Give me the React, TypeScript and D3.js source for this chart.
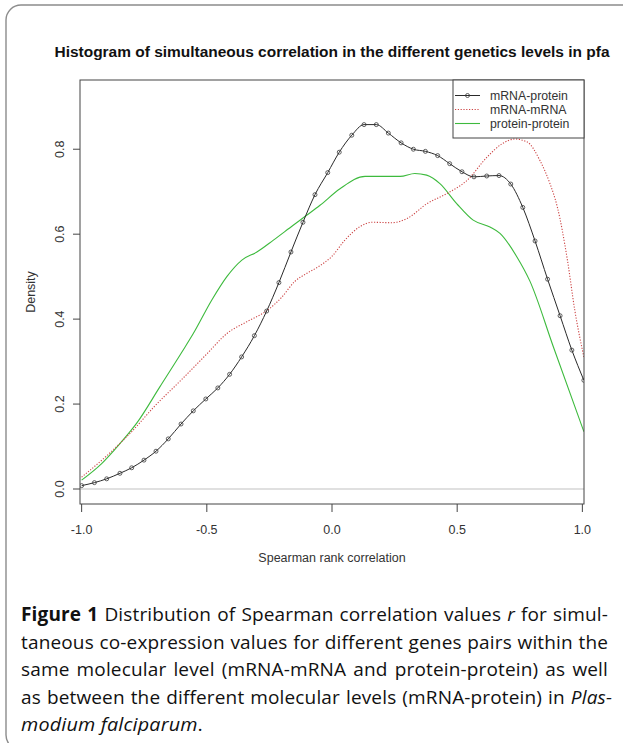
import React, { useRef, useLayoutEffect } from "react";
import * as d3 from "d3";

// values
const mrnaProteinX = [
  -1.0, -0.949, -0.9, -0.847, -0.8, -0.751, -0.703, -0.654, -0.603, -0.554, -0.504,
  -0.456, -0.409, -0.361, -0.31, -0.261, -0.212, -0.164, -0.116, -0.068, -0.017,
  0.029, 0.079, 0.128, 0.177, 0.225, 0.276, 0.325, 0.373, 0.422, 0.47, 0.519,
  0.567, 0.618, 0.667, 0.714, 0.762, 0.811, 0.861, 0.911, 0.958, 1.006,
];
const mrnaProteinY = [
  0.008, 0.015, 0.024, 0.037, 0.05, 0.068, 0.089, 0.118, 0.153, 0.184, 0.212,
  0.238, 0.27, 0.311, 0.361, 0.419, 0.486, 0.558, 0.628, 0.693, 0.745,
  0.793, 0.833, 0.858, 0.858, 0.838, 0.815, 0.8, 0.795, 0.785, 0.766, 0.747,
  0.735, 0.737, 0.738, 0.718, 0.663, 0.584, 0.494, 0.408, 0.327, 0.256,
];

const mrnaMrnaX = [
  -1.0, -0.9, -0.8, -0.71, -0.6, -0.5, -0.42, -0.34, -0.26, -0.2, -0.15, -0.1,
  -0.05, 0.0, 0.05, 0.11, 0.16, 0.24, 0.3, 0.38, 0.46, 0.54, 0.62, 0.68, 0.73,
  0.78, 0.83, 0.87, 0.9, 0.94, 0.97, 1.006,
];
const mrnaMrnaY = [
  0.028, 0.078, 0.135, 0.194, 0.258, 0.318, 0.366, 0.394, 0.42, 0.452, 0.488, 0.508,
  0.525, 0.548, 0.585, 0.617, 0.628, 0.627, 0.637, 0.672, 0.696, 0.727, 0.782, 0.813, 0.824,
  0.817, 0.774, 0.72, 0.664, 0.54, 0.42, 0.311,
];

const proteinX = [
  -1.0, -0.92, -0.847, -0.78, -0.687, -0.6, -0.554, -0.48, -0.42, -0.36, -0.3,
  -0.234, -0.155, -0.1, -0.048, 0.032, 0.132, 0.272, 0.331, 0.378, 0.431, 0.498,
  0.564, 0.631, 0.671, 0.738, 0.79, 0.884, 1.006,
];
const proteinY = [
  0.021, 0.06, 0.107, 0.155, 0.241, 0.322, 0.366, 0.445, 0.5, 0.539, 0.558,
  0.586, 0.621, 0.645, 0.668, 0.707, 0.736, 0.736, 0.743, 0.739, 0.719, 0.672,
  0.633, 0.617, 0.602, 0.547, 0.49, 0.335, 0.135,
];

const xTicks = [-1, -0.5, 0, 0.5, 1];
const yTicks = [0, 0.2, 0.4, 0.6, 0.8];
const seriesNames = ["mRNA-protein", "mRNA-mRNA", "protein-protein"];

const W = 623;
const H = 743;
const left = 80, right = 584, top = 80, bottom = 504;

const zip = (xs: number[], ys: number[]) => xs.map((x, i) => [x, ys[i]] as [number, number]);

export default function App() {
  const capRef = useRef<SVGGElement>(null);

  // justify caption lines by stretching the word gaps, like the typeset original
  useLayoutEffect(() => {
    const g = capRef.current;
    if (!g) return;
    g.querySelectorAll<SVGTextElement>("text[data-w]").forEach((t) => {
      t.setAttribute("word-spacing", "0");
      const target = +(t.getAttribute("data-w") || 0);
      const natural = t.getComputedTextLength();
      const spaces = (t.textContent || "").split(" ").length - 1;
      if (spaces > 0) t.setAttribute("word-spacing", String(Math.max(0, (target - natural) / spaces)));
    });
  }, []);

  const x = d3.scaleLinear().domain([-1.0065, 1.0065]).range([left, right]);
  const y = d3.scaleLinear().domain([-0.0353, 0.963]).range([bottom, top]);

  const line = d3
    .line<[number, number]>()
    .x((d) => x(d[0]))
    .y((d) => y(d[1]))
    .curve(d3.curveMonotoneX);

  const black = zip(mrnaProteinX, mrnaProteinY);
  const red = zip(mrnaMrnaX, mrnaMrnaY);
  const green = zip(proteinX, proteinY);

  const axisFont = "'Liberation Sans', Arial, sans-serif";
  const capFont = "'Open Sans', 'Noto Sans', sans-serif";
  const capX = 21;
  const capW = 587;

  return (
    <svg
      width={W}
      height={H}
      style={{ position: "absolute", left: 0, top: 0, display: "block", background: "#fff" }}
    >
      <defs>
        <clipPath id="plotClip">
          <rect x={left} y={top} width={right - left} height={bottom - top} />
        </clipPath>
      </defs>
      <rect x={0} y={0} width={W} height={H} fill="#fff" />
      {/* outer frame */}
      <rect x={6} y={5} width={700} height={745} rx={15} fill="none" stroke="#8c8c8c" strokeWidth={1.4} />

      {/* title */}
      <text
        x={(left + right) / 2}
        y={56.5}
        textAnchor="middle"
        fontFamily={axisFont}
        fontWeight="bold"
        fontSize={14}
        fill="#111"
        textLength={555}
        lengthAdjust="spacingAndGlyphs"
      >
        Histogram of simultaneous correlation in the different genetics levels in pfa
      </text>

      {/* zero line */}
      <line x1={left} x2={right} y1={y(0)} y2={y(0)} stroke="#d6d6d6" strokeWidth={1.5} />

      <g clipPath="url(#plotClip)">
        <path d={line(green) || ""} fill="none" stroke="#3dba3d" strokeWidth={1.1} />
        <path d={line(red) || ""} fill="none" stroke="#cc4444" strokeWidth={1.1} strokeDasharray="1.2,1.6" />
        <path d={line(black) || ""} fill="none" stroke="#2a2a2a" strokeWidth={1} />
        {black.map((d, i) => (
          <circle key={i} cx={x(d[0])} cy={y(d[1])} r={2} fill="none" stroke="#3a3a3a" strokeWidth={0.8} />
        ))}
      </g>

      {/* plot box */}
      <rect x={left} y={top} width={right - left} height={bottom - top} fill="none" stroke="#444" strokeWidth={1} />

      {/* x axis */}
      <g fontFamily={axisFont} fontSize={12.5} fill="#333">
        {xTicks.map((t) => (
          <g key={t}>
            <line x1={x(t)} x2={x(t)} y1={bottom} y2={bottom + 8} stroke="#444" />
            <text x={x(t)} y={534} textAnchor="middle">
              {t.toFixed(1)}
            </text>
          </g>
        ))}
        <text x={(left + right) / 2} y={562} textAnchor="middle">
          Spearman rank correlation
        </text>
      </g>

      {/* y axis */}
      <g fontFamily={axisFont} fontSize={12.5} fill="#333">
        {yTicks.map((t) => (
          <g key={t}>
            <line x1={left - 7} x2={left} y1={y(t)} y2={y(t)} stroke="#444" />
            <text transform={`translate(64,${y(t)}) rotate(-90)`} textAnchor="middle">
              {t.toFixed(1)}
            </text>
          </g>
        ))}
        <text transform={`translate(35,${(top + bottom) / 2}) rotate(-90)`} textAnchor="middle">
          Density
        </text>
      </g>

      {/* legend */}
      <g fontFamily={axisFont} fontSize={12.3} fill="#333">
        <rect x={453} y={top} width={right - 453} height={58} fill="#fff" stroke="#444" strokeWidth={1} />
        {seriesNames.map((name, i) => {
          const cy = 95.5 + i * 14;
          return (
            <g key={name}>
              {i === 0 && (
                <>
                  <line x1={455} x2={480} y1={cy} y2={cy} stroke="#2a2a2a" />
                  <circle cx={467.5} cy={cy} r={2} fill="none" stroke="#3a3a3a" strokeWidth={0.8} />
                </>
              )}
              {i === 1 && (
                <line x1={455} x2={480} y1={cy} y2={cy} stroke="#cc4444" strokeWidth={1.1} strokeDasharray="1.2,1.6" />
              )}
              {i === 2 && <line x1={455} x2={480} y1={cy} y2={cy} stroke="#3dba3d" strokeWidth={1.1} />}
              <text x={490} y={cy + 4.3}>
                {name}
              </text>
            </g>
          );
        })}
      </g>

      {/* caption */}
      <g ref={capRef} fontFamily={capFont} fontSize={19} fontWeight={500} letterSpacing={0.15} fill="#111">
        <text x={capX} y={621} data-w={capW}>
          <tspan fontWeight="bold">Figure 1</tspan> Distribution of Spearman correlation values{" "}
          <tspan fontStyle="italic">r</tspan> for simul-
        </text>
        <text x={capX} y={648.5} data-w={capW}>
          taneous co-expression values for different genes pairs within the
        </text>
        <text x={capX} y={676} data-w={capW}>
          same molecular level (mRNA-mRNA and protein-protein) as well
        </text>
        <text x={capX} y={703.5} data-w={capW + 4}>
          as between the different molecular levels (mRNA-protein) in{" "}
          <tspan fontStyle="italic">Plas-</tspan>
        </text>
        <text x={capX} y={731} textLength={182} lengthAdjust="spacingAndGlyphs">
          <tspan fontStyle="italic">modium falciparum</tspan>.
        </text>
      </g>
    </svg>
  );
}
